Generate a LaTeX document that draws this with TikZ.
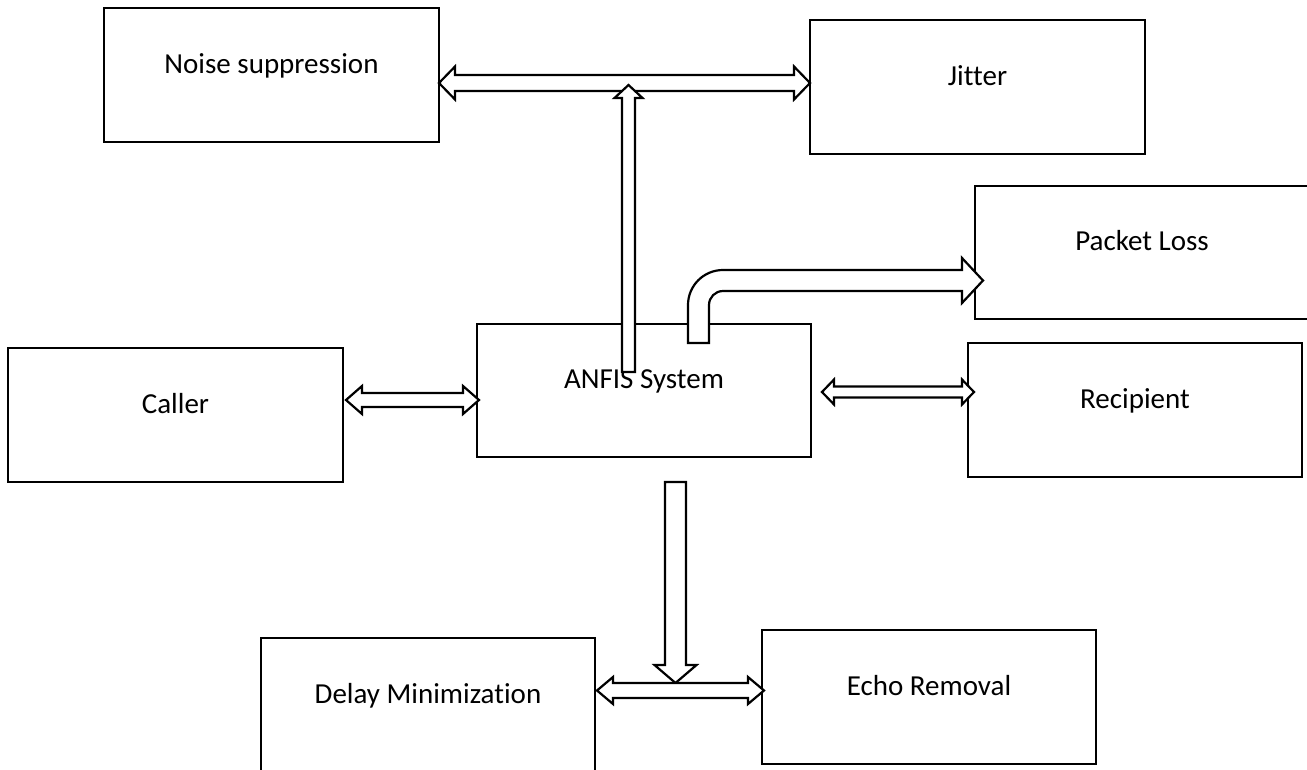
\documentclass[tikz,border=0pt]{standalone}
\usepackage{fontspec}
\setmainfont[Ligatures={NoCommon}]{Carlito}
\usetikzlibrary{calc}
\newcommand\boxfont{\fontsize{29}{35}\selectfont}
\newcommand\hdblarrow[5]{%
  \draw[blockarrow] (#1) -- ($(#1)+(#5,-#4)$) -- ($(#1)+(#5,-#3)$) -- ($(#2)+(-#5,-#3)$)
    -- ($(#2)+(-#5,-#4)$) -- (#2) -- ($(#2)+(-#5,#4)$) -- ($(#2)+(-#5,#3)$)
    -- ($(#1)+(#5,#3)$) -- ($(#1)+(#5,#4)$) -- cycle;}
\begin{document}
\begin{tikzpicture}[x=1pt,y=-1pt,
  box/.style={draw, line width=2.5pt, minimum width=334pt, minimum height=134pt,
    inner sep=0pt, outer sep=0pt, text height=20pt, text depth=24pt, font=\boxfont},
  blockarrow/.style={draw=black, fill=white, line width=2.2pt, line join=miter}]
\useasboundingbox (0,0) rectangle (1307,769);
\clip (0,0) rectangle (1307,769);
% boxes
\node[box, minimum width=335pt] (noise) at (271.5,75) {Noise suppression};
\node[box, minimum width=335pt] (jitter) at (977.5,87) {Jitter};
\node[box, minimum height=133pt] (packet) at (1142,252.5) {Packet Loss};
\node[box, minimum width=335pt] (caller) at (175.5,415) {Caller};
\node[box, minimum height=133pt] (anfis) at (644,390.5) {ANFIS System};
\node[box] (recipient) at (1135,410) {Recipient};
\node[box] (delay) at (428,705) {Delay Minimization};
\node[box] (echo) at (929,697) {Echo Removal};
% coordinates for connectors
\coordinate (tL) at ($(noise.east)+(0,8)$);
\coordinate (tR) at (jitter.west |- tL);
\coordinate (cL) at ($(caller.east)+(3,-15)$);
\coordinate (cR) at ($(anfis.west |- cL)+(2,0)$);
\coordinate (rL) at ($(anfis.east)+(11,1.5)$);
\coordinate (rR) at ($(recipient.west |- rL)+(6,0)$);
\coordinate (bL) at ($(delay.east)+(2,-14.5)$);
\coordinate (bR) at ($(echo.west |- bL)+(2,0)$);
\coordinate (ub) at ($(anfis.north)+(-15.5,48)$);
\coordinate (ut) at ($(ub |- tL)+(0,2)$);
\coordinate (dt) at ($(anfis.south)+(31.5,25)$);
\coordinate (db) at ($(dt |- bL)+(0,-7.5)$);
\coordinate (pb) at ($(anfis.north)+(54.5,19)$);
\coordinate (pc) at ($(anfis.north)+(79,-19)$);
\coordinate (pt) at ($(packet.west)+(8,28)$);
% double arrows
\hdblarrow{tL}{tR}{8}{16.5}{16}
\hdblarrow{cL}{cR}{7}{14}{16}
\hdblarrow{rL}{rR}{5.5}{12.5}{12}
% up arrow to the top double arrow
\draw[blockarrow] ($(ub)+(-6.5,0)$) -- ($(ut)+(-6.5,13)$) -- ($(ut)+(-14,13)$) -- (ut)
  -- ($(ut)+(14,13)$) -- ($(ut)+(6.5,13)$) -- ($(ub)+(6.5,0)$) -- cycle;
% down arrow to the bottom double arrow
\draw[blockarrow] ($(dt)+(-10.5,0)$) -- ($(db)+(-10.5,-18)$) -- ($(db)+(-21,-18)$) -- (db)
  -- ($(db)+(21,-18)$) -- ($(db)+(10.5,-18)$) -- ($(dt)+(10.5,0)$) -- cycle;
\hdblarrow{bL}{bR}{7.5}{13.5}{16}
% bent arrow to Packet Loss
\draw[blockarrow] ($(pb)+(-10.5,0)$) -- ($(pc)+(-35,0)$)
  .. controls ($(pc)+(-35,-19.33)$) and ($(pc)+(-19.33,-35)$) .. ($(pc)+(0,-35)$)
  -- ($(pt)+(-21,-10.5)$) -- ($(pt)+(-21,-22.5)$) -- (pt) -- ($(pt)+(-21,22.5)$)
  -- ($(pt)+(-21,10.5)$) -- ($(pc)+(0,-14)$)
  .. controls ($(pc)+(-7.73,-14)$) and ($(pc)+(-14,-7.73)$) .. ($(pc)+(-14,0)$)
  -- ($(pb)+(10.5,0)$) -- cycle;
\end{tikzpicture}
\end{document}
